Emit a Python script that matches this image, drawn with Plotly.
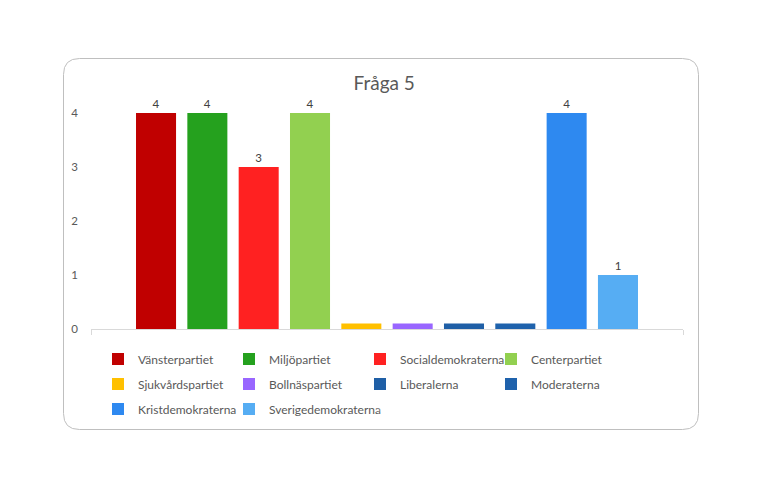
import plotly.graph_objects as go

# data
parties = ["Vänsterpartiet", "Miljöpartiet", "Socialdemokraterna", "Centerpartiet",
           "Sjukvårdspartiet", "Bollnäspartiet", "Liberalerna", "Moderaterna",
           "Kristdemokraterna", "Sverigedemokraterna"]
answers = [4, 4, 3, 4, 0.1, 0.1, 0.1, 0.1, 4, 1]
labels = ["4", "4", "3", "4", "", "", "", "", "4", "1"]
colors = ["#C00000", "#25A11E", "#FF2121", "#92D050", "#FFC000",
          "#9966FF", "#1F5FA6", "#1F62AC", "#2E89F0", "#56ADF3"]
y_ticks = [0, 1, 2, 3, 4]

OFF = 8  # page body margin
W, H = 776 - OFF, 496 - OFF
L, R, T, B = 91 - OFF, 683 - OFF, 100 - OFF, 329 - OFF  # plot area in pixels


def px(x):
    return (x - OFF - L) / (R - L)


def py(y):
    return (B - (y - OFF)) / (B - T)


fig = go.Figure()
for i, (name, val, lab, col) in enumerate(zip(parties, answers, labels, colors)):
    fig.add_trace(go.Bar(
        x=[""], y=[val], name=name, marker=dict(color=col, line=dict(width=0)),
        text=[lab], textposition="outside", cliponaxis=False,
        textfont=dict(size=11.5, color="#404040"),
        legend="legend" if i < 4 else ("legend2" if i < 8 else "legend3"),
    ))

# invisible entry so the last legend row is wide enough for its text
fig.add_trace(go.Scatter(x=[""], y=[0], name="\u00a0" * 4, mode="markers",
                         marker=dict(opacity=0, color="white"), hoverinfo="skip",
                         legend="legend3"))

# rounded border around the chart
x0, x1, y0, y1, r = 63.5, 698.5, 58.5, 429.5, 16
path = (f"M{px(x0 + r)},{py(y0)} L{px(x1 - r)},{py(y0)} "
        f"Q{px(x1)},{py(y0)} {px(x1)},{py(y0 + r)} "
        f"L{px(x1)},{py(y1 - r)} Q{px(x1)},{py(y1)} {px(x1 - r)},{py(y1)} "
        f"L{px(x0 + r)},{py(y1)} Q{px(x0)},{py(y1)} {px(x0)},{py(y1 - r)} "
        f"L{px(x0)},{py(y0 + r)} Q{px(x0)},{py(y0)} {px(x0 + r)},{py(y0)} Z")
fig.add_shape(type="path", path=path, xref="paper", yref="paper",
              line=dict(color="#BFBFBF", width=1), layer="below")

legend_style = dict(orientation="h", x=px(98), xanchor="left", yanchor="middle",
                    entrywidth=86, entrywidthmode="pixels", itemwidth=30,
                    bgcolor="rgba(0,0,0,0)",
                    font=dict(size=12, color="#595959"), traceorder="normal")

fig.update_layout(
    width=W, height=H,
    margin=dict(l=L, r=W - R, t=T, b=H - B),
    paper_bgcolor="white", plot_bgcolor="white",
    font=dict(family="Lato, Open Sans, sans-serif", color="#595959"),
    title=dict(text="Fråga 5", x=px(381), xanchor="center", y=1 - (83 - OFF) / H,
               yanchor="middle", font=dict(size=19, color="#595959")),
    barmode="group", bargap=0.133, bargroupgap=0.22,
    showlegend=True,
    legend=dict(legend_style, y=py(359)),
    legend2=dict(legend_style, y=py(384)),
    legend3=dict(legend_style, y=py(409)),
    xaxis=dict(type="category", showline=True, linecolor="#D9D9D9", linewidth=1,
               ticks="outside", tickson="boundaries", ticklen=5, tickcolor="#D9D9D9",
               showticklabels=False, showgrid=False),
    yaxis=dict(range=[0, (B - T) / 54], tickvals=y_ticks, showgrid=False, zeroline=False,
               showline=False, ticks="", ticklabelstandoff=12,
               tickfont=dict(size=11.5, color="#595959")),
)

fig.write_html("out.html")
